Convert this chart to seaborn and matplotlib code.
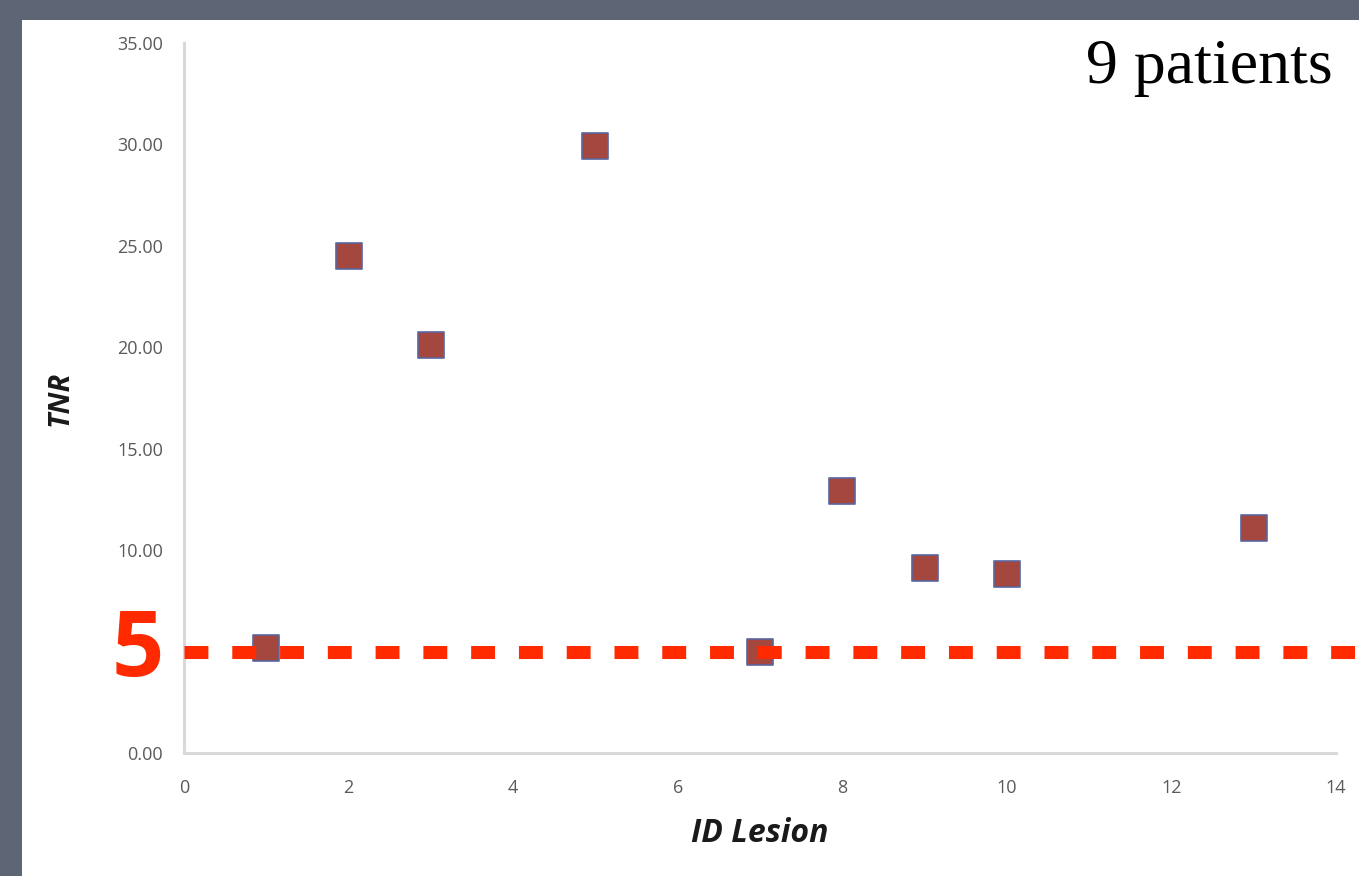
import matplotlib
matplotlib.use("Agg")
import matplotlib.pyplot as plt
from matplotlib.patches import Rectangle
import seaborn as sns
import pandas as pd

# Lesion measurements
lesion_id = [1, 2, 3, 5, 7, 8, 9, 10, 13]
tnr = [5.2, 24.5, 20.1, 29.9, 5.0, 12.9, 9.1, 8.8, 11.1]
threshold = 5
x_ticks = [0, 2, 4, 6, 8, 10, 12, 14]
y_ticks = [0, 5, 10, 15, 20, 25, 30, 35]

df = pd.DataFrame({"ID Lesion": lesion_id, "TNR": tnr})

sns.set_style("white")
plt.rcParams["font.family"] = ["Open Sans", "DejaVu Sans"]
plt.rcParams["lines.scale_dashes"] = False

fig = plt.figure(figsize=(13.59, 8.76), dpi=100, facecolor="#5e6575")
# white slide panel behind the chart
fig.patches.append(Rectangle((22 / 1359, 0), 1 - 22 / 1359, 1 - 20 / 876,
                             transform=fig.transFigure, facecolor="white",
                             edgecolor="none", zorder=-10))

ax = fig.add_axes([184 / 1359, 1 - 753 / 876, (1336 - 184) / 1359, (753 - 43) / 876])
ax.set_zorder(1)
ax.set_facecolor("white")

sns.scatterplot(data=df, x="ID Lesion", y="TNR", ax=ax, marker="s", s=370,
                color="#a4473f", edgecolor="#5a66a0", linewidth=1.2, zorder=3)

ax.set_xlim(0, 14)
ax.set_ylim(0, 35)
ax.set_xticks(x_ticks)
ax.set_xticklabels([str(v) for v in x_ticks])
ax.set_yticks(y_ticks)
# the threshold digit sits where the 5.00 label would be
ax.set_yticklabels(["" if v == threshold else f"{v:.2f}" for v in y_ticks])
ax.tick_params(axis="both", length=0, labelsize=13, labelcolor="#5a5a5a")
ax.tick_params(axis="y", pad=15)
ax.tick_params(axis="x", pad=19)

for side in ["top", "right"]:
    ax.spines[side].set_visible(False)
for side in ["left", "bottom"]:
    ax.spines[side].set_color("#d9d9d9")
    ax.spines[side].set_linewidth(2.2)

ax.set_xlabel("ID Lesion", fontsize=23, fontweight="bold", fontstyle="italic",
              color="#1a1a1a", labelpad=14)
ax.set_ylabel("TNR", fontsize=21, fontweight="bold", fontstyle="italic",
              color="#1a1a1a", labelpad=31)

# threshold line, running past the right edge of the plot
ax.plot([0, 14.4], [threshold, threshold], color="#ff2a00", linewidth=9.4,
        linestyle=(0, (17.2, 17.2)), dash_capstyle="butt", solid_capstyle="butt",
        clip_on=False, zorder=4)
ax.text(-0.25, threshold, str(threshold), color="#ff2a00", fontsize=66,
        fontweight="bold", ha="right", va="center", clip_on=False)

fig.text(1333 / 1359, 1 - 83 / 876, "9 patients", fontsize=46,
         family="Liberation Serif", color="black", ha="right", va="baseline")

fig.savefig("out.png", dpi=100, facecolor=fig.get_facecolor())
